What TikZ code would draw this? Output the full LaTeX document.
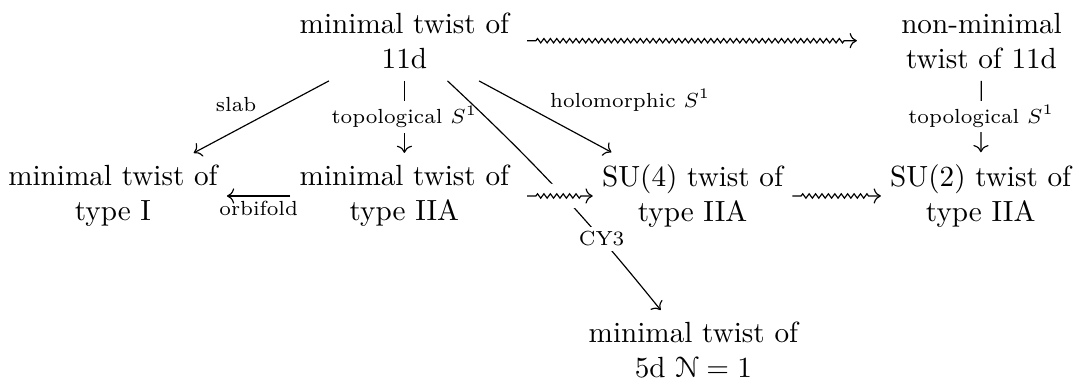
\documentclass[tikz,border=0pt]{standalone}
\usepackage[mathcal]{eucal}
\usetikzlibrary{arrows.meta,decorations.pathmorphing}

\begin{document}
\begin{tikzpicture}[ > = {Computer Modern Rightarrow}, cell/.style = {align=center, inner xsep=3pt, inner ysep=4pt}, squig/.style = {->, decorate, decoration={zigzag, segment length=2.2pt, amplitude=0.75pt, pre length=3pt, post length=4pt}}, desc/.style = {fill=white, inner sep=1.5pt, font=\scriptsize}, lbl/.style = {font=\scriptsize, inner sep=1.5pt}]

    \useasboundingbox (0,0) rectangle (12.97,-4.61);

    % twists
    \node[cell] (min11d)    at (4.87,-0.49) {minimal twist of\\11d};
    \node[cell] (nonmin11d) at (11.82,-0.49) {non-minimal\\twist of 11d};
    \node[cell] (minI)      at (1.36,-2.36) {minimal twist of\\type I};
    \node[cell] (minIIA)    at (4.87,-2.36) {minimal twist of\\type IIA};
    \node[cell] (suIV)      at (8.34,-2.36) {SU(4) twist of\\type IIA};
    \node[cell] (suII)      at (11.81,-2.36) {SU(2) twist of\\type IIA};
    \node[cell] (min5d)     at (8.35,-4.22) {minimal twist of\\5d $\mathcal{N}=1$};

    % reductions
    \draw[->] (min11d) -- (minI) node[midway, above left, lbl] {slab};
    \draw[->] (min11d) -- node[desc] {topological $S^1$} (minIIA);
    \draw[->] (min11d) -- (suIV) node[midway, above right, lbl] {holomorphic $S^1$};
    \draw[->] (min11d) to[bend left=4] node[desc, pos=0.72] {CY3} (min5d);
    \draw[->] (nonmin11d) -- node[desc] {topological $S^1$} (suII);
    \draw[->] (minIIA) -- (minI) node[midway, below, lbl] {orbifold};

    % deformations
    \draw[squig] ([xshift=3pt]min11d.east) -- ([xshift=-12pt]nonmin11d.west);
    \draw[squig, preaction={draw=white, line width=7pt, line join=round, -}] ([xshift=3pt]minIIA.east) -- (suIV);
    \draw[squig] (suIV) -- (suII);

\end{tikzpicture}
\end{document}
